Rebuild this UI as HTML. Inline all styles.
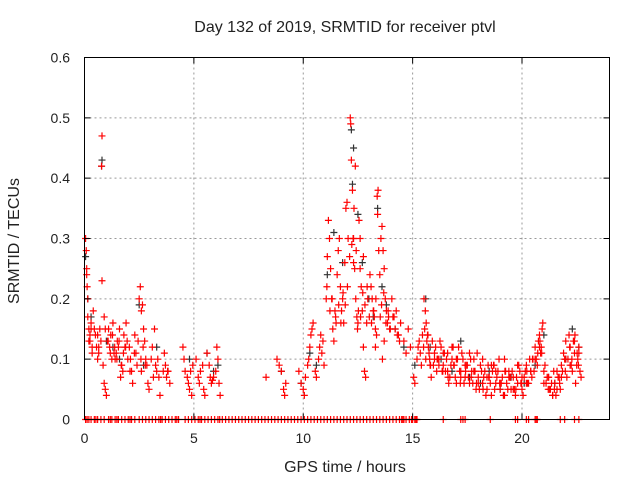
<!DOCTYPE html>
<html><head><meta charset="utf-8"><style>
body{margin:0;background:#fff}
svg{display:block}
text{font-family:"Liberation Sans",sans-serif;font-size:14px;fill:#222}
text.big{font-size:16px}
</style></head><body>
<svg id="chart" width="640" height="480">
<text class="big" x="345" y="32" text-anchor="middle">Day 132 of 2019, SRMTID for receiver ptvl</text>
<text class="big" x="345" y="472" text-anchor="middle">GPS time / hours</text>
<text class="big" x="19" y="241" text-anchor="middle" transform="rotate(-90 19 241)">SRMTID / TECUs</text>
<g id="grid"></g>
<g id="black"></g>
<g id="red"></g>
<rect x="84.5" y="57.5" width="525" height="362" fill="none" stroke="#000" stroke-width="1"/>
<g id="ticks"></g>
</svg>
<script>
const xTicks=[0,5,10,15,20];
const yTicks=[0,0.1,0.2,0.3,0.4,0.5,0.6];
const yTickLabels=["0","0.1","0.2","0.3","0.4","0.5","0.6"];
const redTimes=[0.05,0.08,0.1,0.12,0.15,0.2,0.25,0.3,0.35,0.4,0.45,0.1,0.2,0.3,
0.55,0.6,0.65,0.8,0.78,0.7,0.75,0.85,0.9,0.95,1.0,0.6,0.8,0.9,
1.05,1.1,1.15,1.2,1.3,1.35,1.4,1.5,1.55,1.6,1.7,1.75,1.8,1.85,1.9,1.95,1.45,1.25,1.65,
2.05,2.1,2.15,2.2,2.3,2.35,2.4,
2.5,2.55,2.6,2.65,2.7,2.75,2.8,2.85,2.9,2.95,2.6,
3.05,3.1,3.2,3.25,3.3,3.4,3.45,
3.6,3.7,3.75,3.8,3.9,
4.5,4.55,4.6,4.7,4.75,4.8,4.9,4.95,4.85,
5.1,5.2,5.25,5.3,5.4,5.45,5.5,
5.6,5.7,5.75,5.8,5.85,5.9,6.0,6.05,6.1,6.15,6.2,
8.3,
8.8,8.9,9.0,9.1,9.15,9.2,
9.8,9.9,10.0,10.05,10.1,10.2,10.25,10.3,10.35,10.4,10.45,
10.55,10.6,10.7,10.75,10.8,10.85,10.9,10.95,
11.05,11.1,11.15,11.2,11.25,11.3,11.35,11.4,11.45,11.5,
11.55,11.6,11.65,11.7,11.75,11.8,11.85,11.9,11.95,12.0,12.05,
12.15,12.17,12.2,12.25,12.3,12.3,12.35,12.4,12.45,12.5,12.48,12.38,12.42,
12.55,12.6,12.65,12.7,12.75,12.8,12.85,12.9,12.95,12.6,12.75,
13.05,13.1,13.15,13.2,13.25,13.3,13.35,13.4,13.45,13.42,13.38,13.3,
13.55,13.6,13.65,13.7,13.75,13.8,13.85,13.9,13.95,13.7,13.62,13.5,
14.05,14.1,14.2,14.25,14.3,14.4,14.45,
14.6,14.7,14.8,14.9,
15.05,15.1,15.2,15.25,15.3,15.35,15.4,15.45,
15.5,15.6,15.7,15.8,15.9,16.0,16.1,16.2,16.3,16.4,16.5,16.6,16.7,16.8,16.9,17.0,17.1,17.2,17.3,17.4,
17.5,17.6,17.7,17.8,17.9,18.0,18.1,18.2,18.3,18.4,18.5,18.6,18.7,18.8,18.9,19.0,19.1,19.2,19.3,19.4,
19.5,19.6,19.7,19.8,19.9,20.0,20.1,20.2,20.3,20.4,20.5,20.6,20.7,20.8,20.9,21.0,21.1,21.2,21.3,21.4,
21.5,21.6,21.7,21.8,21.9,22.0,22.1,22.2,22.3,22.4,22.5,22.6,22.7,
15.55,15.65,15.75,15.85,15.95,16.05,16.15,16.25,16.35,16.45,16.55,16.65,16.75,16.85,16.95,17.05,17.15,17.25,17.35,17.45,
17.55,17.65,17.75,17.85,17.95,18.05,18.15,18.25,18.35,18.45,18.55,18.65,18.75,18.85,18.95,19.05,19.15,19.25,19.35,19.45,
19.55,19.65,19.75,19.85,19.95,20.05,20.15,20.25,20.35,20.45,20.55,20.65,20.75,20.85,20.95,21.05,21.15,21.25,21.35,21.45,
21.55,21.65,21.75,21.85,21.95,22.05,22.15,22.25,22.35,22.45,22.55,22.65,
15.52,15.58,15.62,15.68,15.72,15.78,15.82,16.12,16.38,16.62,16.88,17.18,17.42,17.68,17.92,18.22,18.48,18.72,18.98,19.22,19.48,19.72,19.98,20.22,20.48,20.72,20.82,20.88,20.92,21.22,21.48,21.72,21.98,22.18,22.28,22.42,22.52,22.58,
16.0,16.2,16.4,16.6,16.8,17.0,17.2,17.4,17.6,17.8,18.0,18.2,18.4,18.6,18.8,19.0,19.2,19.4,19.6,19.8,20.0,20.2,20.4,20.6,20.8,21.0,21.2,21.4,21.6,21.8,22.0,22.2,22.4,22.6,
0.15,0.25,0.35,0.5,0.65,0.95,1.08,1.18,1.28,1.38,1.48,1.58,1.68,1.78,1.88,1.98,2.08,2.28,2.45,2.58,2.68,2.78,3.15,3.35,3.65,3.82,
11.08,11.22,11.32,11.48,11.62,11.72,11.82,11.92,12.02,12.12,12.22,12.28,12.32,12.52,12.62,12.72,12.82,12.92,13.02,13.12,13.22,13.32,13.52,13.58,13.68,13.78,13.88,13.98,14.15,14.35];
const redValues=[0.3,0.28,0.25,0.22,0.2,0.15,0.14,0.16,0.12,0.18,0.15,0.24,0.13,0.15,
0.12,0.1,0.11,0.47,0.42,0.15,0.13,0.09,0.06,0.05,0.04,0.14,0.23,0.17,
0.13,0.15,0.12,0.14,0.16,0.11,0.1,0.13,0.12,0.15,0.09,0.08,0.14,0.12,0.16,0.13,0.11,0.1,0.07,
0.12,0.1,0.08,0.06,0.14,0.11,0.09,
0.2,0.22,0.18,0.19,0.15,0.13,0.1,0.09,0.06,0.05,0.08,
0.1,0.12,0.15,0.09,0.08,0.07,0.04,
0.08,0.09,0.07,0.08,0.06,
0.12,0.1,0.08,0.07,0.06,0.05,0.04,0.09,0.08,
0.1,0.07,0.06,0.08,0.09,0.05,0.04,
0.11,0.09,0.07,0.06,0.065,0.07,0.08,0.12,0.1,0.06,0.04,
0.07,
0.1,0.09,0.08,0.05,0.04,0.06,
0.08,0.06,0.05,0.04,0.07,0.09,0.1,0.12,0.14,0.15,0.16,
0.08,0.07,0.1,0.12,0.14,0.11,0.13,0.09,
0.2,0.27,0.33,0.3,0.25,0.2,0.15,0.13,0.18,0.16,
0.24,0.28,0.3,0.22,0.18,0.2,0.16,0.26,0.35,0.36,0.3,
0.5,0.49,0.43,0.38,0.3,0.26,0.25,0.2,0.17,0.16,0.15,0.42,0.28,
0.33,0.3,0.22,0.18,0.12,0.08,0.07,0.16,0.2,0.25,0.27,
0.24,0.22,0.2,0.18,0.17,0.15,0.14,0.34,0.28,0.38,0.37,0.12,
0.3,0.32,0.28,0.25,0.2,0.18,0.16,0.17,0.15,0.13,0.1,0.24,
0.2,0.17,0.15,0.18,0.14,0.13,0.16,
0.13,0.11,0.15,0.12,
0.07,0.06,0.1,0.12,0.13,0.11,0.09,0.14,
0.12,0.1,0.14,0.09,0.13,0.11,0.08,0.1,0.12,0.09,0.08,0.11,0.07,0.1,0.09,0.06,0.12,0.08,0.1,0.07,
0.09,0.06,0.08,0.1,0.05,0.07,0.09,0.06,0.08,0.05,0.07,0.04,0.09,0.06,0.08,0.05,0.07,0.04,0.06,0.08,
0.05,0.07,0.04,0.06,0.08,0.05,0.07,0.09,0.06,0.08,0.1,0.12,0.09,0.14,0.11,0.08,0.06,0.07,0.05,0.04,
0.06,0.05,0.07,0.09,0.11,0.13,0.1,0.12,0.08,0.11,0.09,0.12,0.07,
0.15,0.13,0.11,0.07,0.09,0.12,0.1,0.13,0.08,0.11,0.1,0.06,0.09,0.12,0.07,0.1,0.08,0.11,0.06,0.09,
0.07,0.1,0.06,0.08,0.11,0.05,0.08,0.07,0.04,0.09,0.06,0.08,0.05,0.07,0.1,0.06,0.04,0.08,0.05,0.07,
0.08,0.05,0.07,0.09,0.06,0.04,0.08,0.06,0.1,0.07,0.08,0.1,0.13,0.11,0.16,0.09,0.07,0.05,0.06,0.08,
0.04,0.07,0.05,0.08,0.1,0.07,0.14,0.09,0.13,0.06,0.1,0.08,
0.2,0.18,0.16,0.14,0.12,0.1,0.09,0.1,0.08,0.07,0.09,0.06,0.08,0.07,0.06,0.05,0.07,0.09,0.06,0.08,0.07,0.05,0.06,0.08,0.1,0.11,0.13,0.12,0.15,0.07,0.05,0.06,0.08,0.12,0.1,0.14,0.11,0.09,
0.1,0.09,0.11,0.08,0.12,0.1,0.07,0.09,0.11,0.08,0.06,0.1,0.07,0.09,0.08,0.06,0.1,0.07,0.05,0.09,0.07,0.06,0.08,0.1,0.12,0.06,0.05,0.04,0.08,0.07,0.1,0.09,0.13,0.11,
0.17,0.13,0.11,0.14,0.12,0.15,0.13,0.11,0.14,0.12,0.1,0.13,0.09,0.11,0.12,0.1,0.08,0.11,0.13,0.1,0.12,0.09,0.07,0.1,0.11,0.08,
0.22,0.18,0.2,0.17,0.19,0.16,0.21,0.19,0.22,0.27,0.29,0.3,0.35,0.18,0.17,0.21,0.19,0.22,0.17,0.16,0.18,0.2,0.17,0.19,0.21,0.16,0.18,0.15,0.17,0.14];
const blackTimes=[0.05,0.15,0.3,0.78,0.8,1.0,1.3,1.6,2.5,2.7,3.3,4.8,5.6,5.9,6.1,9.0,9.9,10.3,10.6,11.1,11.4,11.8,12.2,12.25,12.3,12.5,12.7,13.0,13.2,13.4,13.6,13.8,14.2,14.6,15.1,15.6,15.8,16.3,16.8,17.2,17.6,18.1,18.5,19.0,19.5,20.1,20.6,21.0,21.5,22.0,22.3,22.6];
const blackValues=[0.27,0.2,0.17,0.42,0.43,0.13,0.12,0.1,0.19,0.09,0.12,0.1,0.11,0.08,0.09,0.08,0.06,0.11,0.09,0.24,0.31,0.26,0.48,0.39,0.45,0.34,0.26,0.2,0.17,0.35,0.22,0.19,0.15,0.12,0.09,0.2,0.12,0.1,0.08,0.13,0.07,0.06,0.08,0.05,0.07,0.06,0.09,0.14,0.06,0.1,0.15,0.12];
const zeroTimes=[0.05,0.12,0.2,0.3,0.45,0.52,0.6,0.75,0.9,1.1,1.18,1.25,1.4,1.48,1.55,1.7,1.85,2.0,2.08,2.15,2.3,2.5,2.65,2.8,2.95,3.1,3.25,3.4,3.48,3.55,3.7,3.85,4.0,4.15,4.22,4.3,4.6,4.75,4.9,5.05,5.2,5.28,5.35,5.5,5.65,5.8,5.95,6.1,6.18,6.3,6.45,6.6,6.75,6.9,7.05,7.2,7.35,7.5,7.65,7.8,7.95,8.1,8.25,8.4,8.55,8.7,8.85,9.0,9.15,9.3,9.45,9.6,9.75,9.9,10.05,10.2,10.35,10.5,10.65,10.8,10.95,11.1,11.25,11.4,11.55,11.7,11.85,12.0,12.15,12.3,12.45,12.6,12.75,12.9,13.05,13.2,13.35,13.5,13.65,13.8,13.95,14.1,14.25,14.4,14.5,14.55,14.6,14.7,14.85,14.95,15.0,15.1,15.15,15.2,16.4,17.2,17.3,17.4,18.55,19.7,19.8,20.2,20.3,20.6,20.65,20.7,21.75,21.95,22.4,22.6];
const xScale=t=>84.5+t*(525/24);
const yScale=v=>419.5-v*(362/0.6);
const NS="http://www.w3.org/2000/svg";
const grid=document.getElementById('grid'),ticks=document.getElementById('ticks');
function mk(tag,attrs,parent){const e=document.createElementNS(NS,tag);for(const k in attrs)e.setAttribute(k,attrs[k]);parent.appendChild(e);return e;}
xTicks.forEach(t=>{const x=xScale(t);
 if(t>0){const g=mk('line',{x1:x,x2:x,y1:57.5,y2:419.5,stroke:'#999','stroke-dasharray':'2,3'},grid);
 
 }
 const tk=mk('path',{d:`M${x},419.5v-6M${x},57.5v6`,stroke:'#000'},ticks);
 
 
 const lb=mk('text',{x:x,y:443,'text-anchor':'middle'},ticks);lb.textContent=t;
 
 });
yTicks.forEach((v,i)=>{const y=yScale(v);
 if(v>0&&v<0.6){const g=mk('line',{x1:84.5,x2:609.5,y1:y,y2:y,stroke:'#999','stroke-dasharray':'2,3'},grid);
 
 }
 const tk=mk('path',{d:`M84.5,${y}h6M609.5,${y}h-6`,stroke:'#000'},ticks);
 
 
 const lb=mk('text',{x:70,y:y+5,'text-anchor':'end'},ticks);lb.textContent=yTickLabels[i];
 
 });
function plus(t,v,color,parent,name){const x=xScale(t),y=yScale(v);
 const p=mk('path',{d:`M${x-3.5},${y}h7M${x},${y-3.5}v7`,stroke:color,'stroke-width':1.2},parent);
 
 }
const bg=document.getElementById('black'),rg=document.getElementById('red');
blackTimes.forEach((t,i)=>plus(t,blackValues[i],'#333',bg,'black-point'));
redTimes.forEach((t,i)=>plus(t,redValues[i],'#ff0000',rg,'red-point'));
zeroTimes.forEach(t=>plus(t,0,'#ff0000',rg,'zero-point'));
</script>
</body></html>
